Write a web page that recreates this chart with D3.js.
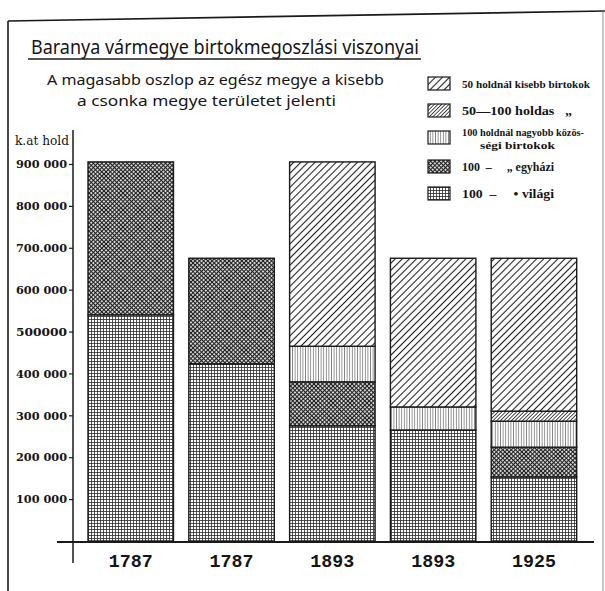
<!DOCTYPE html>
<html>
<head>
<meta charset="utf-8">
<script src="https://cdn.jsdelivr.net/npm/d3@7"></script>
<style>
  html, body { margin: 0; padding: 0; background: #fff; }
  svg { display: block; }
  text { fill: #151515; }
</style>
</head>
<body>
<svg id="chart" width="605" height="591"></svg>
<script>
// ---- DATA ----
const categories = ["1787 egész megye", "1787 csonka megye", "1893 egész megye", "1893 csonka megye", "1925 csonka megye"];
const yearLabels = ["1787", "1787", "1893", "1893", "1925"];
const seriesKeys = ["vilagi", "egyhazi", "kozossegi", "h50_100", "kisebb"]; // bottom -> top
const vilagi    = [540000, 423000, 275000, 265000, 153000];
const egyhazi   = [365000, 252000, 105000,      0,  71000];
const kozossegi = [     0,      0,  85000,  55000,  62000];
const h50_100   = [     0,      0,      0,      0,  24000];
const kisebb    = [     0,      0, 440000, 355000, 365000];
const yTickValues = [100000, 200000, 300000, 400000, 500000, 600000, 700000, 800000, 900000];
const yTickLabels = ["100 000", "200 000", "300 000", "400 000", "500000", "600 000", "700.000", "800 000", "900 000"];
const legendOrder = ["kisebb", "h50_100", "kozossegi", "egyhazi", "vilagi"];
const legendLines = [
  ["50 holdnál kisebb birtokok"],
  ["50—100 holdas   „"],
  ["100 holdnál nagyobb közös-", "ségi birtokok"],
  ["100  –     „ egyházi"],
  ["100  –     • világi"]
];
const titleText = "Baranya vármegye birtokmegoszlási viszonyai";
const subtitle = ["A magasabb oszlop az egész megye a kisebb", "a csonka megye területet jelenti"];
const yUnit = "k.at hold";

// ---- BUILD ----
const svg = d3.select("#chart");
const ink = "#1a1a1a";

// patterns
const defs = svg.append("defs");
function linePattern(id, spacing, angle, stroke, sw, cross) {
  const p = defs.append("pattern").attr("id", id)
    .attr("patternUnits", "userSpaceOnUse")
    .attr("width", spacing).attr("height", spacing)
    .attr("patternTransform", `rotate(${angle})`);
  p.append("rect").attr("width", spacing).attr("height", spacing).attr("fill", "#fff");
  p.append("line").attr("x1", spacing / 2).attr("y1", 0).attr("x2", spacing / 2).attr("y2", spacing)
    .attr("stroke", stroke).attr("stroke-width", sw);
  if (cross) {
    p.append("line").attr("x1", 0).attr("y1", spacing / 2).attr("x2", spacing).attr("y2", spacing / 2)
      .attr("stroke", stroke).attr("stroke-width", sw);
  }
}
linePattern("pat-kisebb", 5, 45, "#222", 1.1, false);
linePattern("pat-h50_100", 2.6, 45, "#333", 0.9, false);
linePattern("pat-kozossegi", 2.6, 0, "#777", 0.8, false);
linePattern("pat-egyhazi", 3, 45, "#1c1c1c", 1.2, true);
linePattern("pat-vilagi", 3, 0, "#333", 0.85, true);

// scales
const x = d3.scaleBand().domain(categories).range([88, 576.7]).paddingInner(0.152).paddingOuter(0);
const y = d3.scaleLinear().domain([0, 900000]).range([541, 164]);

// frame
svg.append("line").attr("x1", 8).attr("y1", 21).attr("x2", 605).attr("y2", 11).attr("stroke", ink).attr("stroke-width", 1.6);
svg.append("line").attr("x1", 8).attr("y1", 21).attr("x2", 8).attr("y2", 591).attr("stroke", ink).attr("stroke-width", 1.6);
svg.append("line").attr("x1", 603).attr("y1", 11).attr("x2", 603).attr("y2", 591).attr("stroke", "#777").attr("stroke-width", 0.8);

// title
svg.append("text").attr("x", 31).attr("y", 54).text(titleText)
  .attr("font-family", "'Noto Sans', 'DejaVu Sans', sans-serif").attr("font-size", 20)
  .attr("textLength", 388).attr("lengthAdjust", "spacingAndGlyphs");
svg.append("line").attr("x1", 28).attr("x2", 421).attr("y1", 59).attr("y2", 59).attr("stroke", ink).attr("stroke-width", 1.5);

svg.append("text").attr("x", 47).attr("y", 85).text(subtitle[0])
  .attr("font-family", "'Noto Sans', 'DejaVu Sans', sans-serif").attr("font-size", 15)
  .attr("textLength", 337).attr("lengthAdjust", "spacingAndGlyphs");
svg.append("text").attr("x", 77).attr("y", 106).text(subtitle[1])
  .attr("font-family", "'Noto Sans', 'DejaVu Sans', sans-serif").attr("font-size", 15)
  .attr("textLength", 259).attr("lengthAdjust", "spacingAndGlyphs");

// stacked bars
const rows = categories.map((c, i) => ({
  cat: c, vilagi: vilagi[i], egyhazi: egyhazi[i], kozossegi: kozossegi[i], h50_100: h50_100[i], kisebb: kisebb[i]
}));
const stacked = d3.stack().keys(seriesKeys)(rows);
const gBars = svg.append("g");
stacked.forEach(layer => {
  gBars.selectAll(null).data(layer.filter(d => d[1] - d[0] > 0)).enter().append("rect")
    .attr("x", d => x(d.data.cat))
    .attr("width", x.bandwidth())
    .attr("y", d => y(d[1]))
    .attr("height", d => y(d[0]) - y(d[1]))
    .attr("fill", `url(#pat-${layer.key})`)
    .attr("stroke", ink).attr("stroke-width", 1.4);
});

// y axis
const yAxis = d3.axisLeft(y).tickValues(yTickValues)
  .tickFormat((d, i) => yTickLabels[i]).tickSize(4).tickPadding(2);
const gy = svg.append("g").attr("transform", "translate(73,0)").call(yAxis);
gy.select(".domain").remove();
gy.selectAll(".tick line").attr("stroke", ink).attr("stroke-width", 1.2);
gy.selectAll(".tick text").attr("font-family", "'DejaVu Serif', serif").attr("font-weight", "bold")
  .attr("font-size", 11.5).attr("fill", "#1a1a1a")
  .attr("textLength", 51).attr("lengthAdjust", "spacingAndGlyphs");
svg.append("line").attr("x1", 73).attr("x2", 73).attr("y1", y(900000) - 34).attr("y2", y(0) + 22)
  .attr("stroke", ink).attr("stroke-width", 1.5);
svg.append("text").attr("x", 15).attr("y", 145).text(yUnit)
  .attr("font-family", "'DejaVu Serif', serif").attr("font-size", 13.5)
  .attr("textLength", 54).attr("lengthAdjust", "spacingAndGlyphs");

// x axis
const xAxis = d3.axisBottom(x).tickFormat((d, i) => yearLabels[i]).tickSize(0).tickPadding(12);
const gx = svg.append("g").attr("transform", `translate(0,${y(0) + 1})`).call(xAxis);
gx.select(".domain").remove();
gx.selectAll(".tick text").attr("font-family", "'Liberation Mono', 'DejaVu Sans Mono', monospace")
  .attr("font-size", 18.5).attr("font-weight", "bold").attr("fill", "#1a1a1a")
  .attr("textLength", 44).attr("lengthAdjust", "spacingAndGlyphs");
svg.append("line").attr("x1", 57).attr("x2", 594).attr("y1", y(0) + 1).attr("y2", y(0) + 1)
  .attr("stroke", ink).attr("stroke-width", 1.8);

// legend
const legY = [77, 104, 131, 160, 187];
const legendWidths = [[128], [110], [122, 75], [92], [92]];
const gl = svg.append("g");
legendOrder.forEach((k, i) => {
  gl.append("rect").attr("x", 428).attr("y", legY[i]).attr("width", 22).attr("height", 13)
    .attr("fill", `url(#pat-${k})`).attr("stroke", ink).attr("stroke-width", 1.2);
  const lines = legendLines[i];
  lines.forEach((t, j) => {
    const big = (i === 1 || i >= 3);
    const yy = lines.length > 1 ? legY[i] + 5 + j * 13 : legY[i] + 11;
    gl.append("text").attr("x", j === 0 ? 462 : 480).attr("y", yy)
      .attr("xml:space", "preserve").style("white-space", "pre")
      .attr("font-family", "'Liberation Serif', serif").attr("font-weight", "bold")
      .attr("font-size", big ? 13 : 10.5)
      .attr("textLength", legendWidths[i][j]).attr("lengthAdjust", "spacingAndGlyphs")
      .text(t);
  });
});
</script>
</body>
</html>
